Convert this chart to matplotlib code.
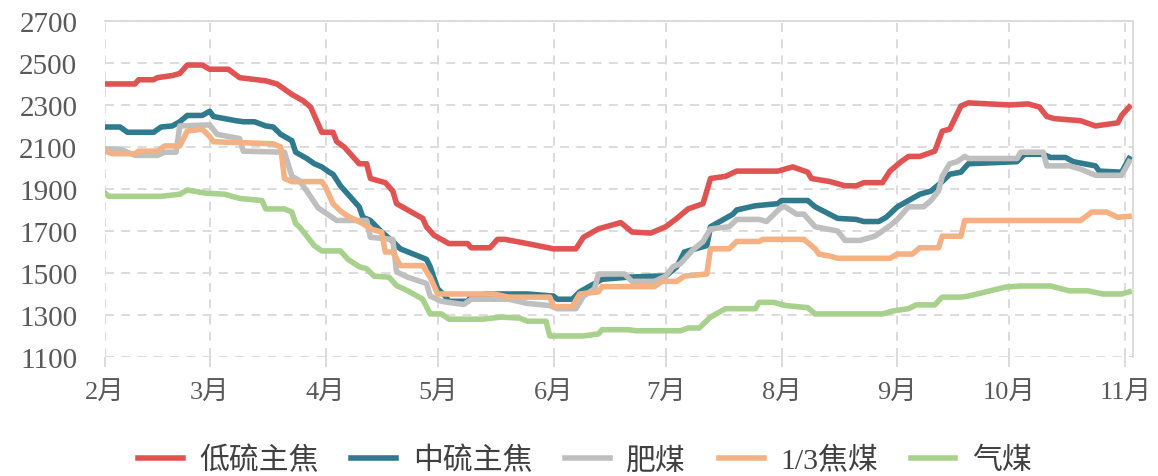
import numpy as np
import pandas as pd
import matplotlib
matplotlib.use('Agg')
import matplotlib.pyplot as plt
import matplotlib.dates as mdates

plt.rcParams['font.family'] = ['Liberation Serif', 'Noto Sans CJK SC']

# %%
# Price series, dates as month-day of one year
red_dates = ['02-01', '02-09', '02-10', '02-14', '02-15', '02-19', '02-21', '02-23', '02-27', '03-01',
             '03-06', '03-09', '03-16', '03-19', '03-23', '03-26', '03-28', '03-31', '04-03', '04-04',
             '04-06', '04-10', '04-12', '04-13', '04-17', '04-19', '04-20', '04-23', '04-27', '04-28',
             '04-30', '05-02', '05-03', '05-04', '05-09', '05-10', '05-15', '05-17', '05-19', '05-22',
             '05-25', '06-01', '06-07', '06-09', '06-13', '06-19', '06-22', '06-27', '07-01', '07-04',
             '07-07', '07-11', '07-13', '07-17', '07-20', '07-31', '08-04', '08-08', '08-09', '08-14',
             '08-18', '08-21', '08-23', '08-28', '08-30', '09-02', '09-04', '09-07', '09-11', '09-13',
             '09-15', '09-18', '09-20', '10-01', '10-06', '10-09', '10-11', '10-13', '10-20', '10-24',
             '10-30', '10-31', '11-02']
red_vals = [2400, 2400, 2420, 2420, 2430, 2440, 2450, 2490, 2490, 2470,
            2470, 2430, 2415, 2400, 2350, 2320, 2290, 2170, 2170, 2125,
            2100, 2020, 2020, 1950, 1930, 1890, 1830, 1800, 1760, 1720,
            1680, 1660, 1650, 1640, 1640, 1620, 1620, 1660, 1660, 1650,
            1640, 1615, 1615, 1670, 1710, 1740, 1695, 1690, 1720, 1760,
            1805, 1830, 1950, 1960, 1985, 1985, 2005, 1980, 1950, 1935,
            1915, 1915, 1930, 1930, 1985, 2030, 2055, 2055, 2080, 2175,
            2185, 2295, 2310, 2300, 2305, 2290, 2245, 2235, 2225, 2200,
            2215, 2250, 2290]

teal_dates = ['02-01', '02-05', '02-07', '02-14', '02-16', '02-19', '02-21', '02-23', '02-27', '03-01',
              '03-02', '03-08', '03-10', '03-13', '03-16', '03-18', '03-20', '03-23', '03-24', '03-27',
              '03-29', '03-31', '04-02', '04-03', '04-05', '04-07', '04-10', '04-11', '04-13', '04-16',
              '04-19', '04-21', '04-28', '04-29', '05-01', '05-03', '05-04', '05-09', '05-10', '05-14',
              '05-25', '06-01', '06-02', '06-06', '06-08', '06-14', '06-21', '06-28', '07-01', '07-04',
              '07-06', '07-09', '07-12', '07-13', '07-19', '07-20', '07-25', '07-31', '08-01', '08-08',
              '08-10', '08-16', '08-21', '08-23', '08-27', '08-29', '09-01', '09-04', '09-07', '09-10',
              '09-13', '09-15', '09-18', '09-20', '10-03', '10-05', '10-10', '10-12', '10-16', '10-18',
              '10-24', '10-25', '10-31', '11-02']
teal_vals = [2195, 2195, 2170, 2170, 2195, 2200, 2220, 2250, 2250, 2270,
             2245, 2225, 2220, 2220, 2200, 2195, 2160, 2130, 2075, 2045,
             2020, 2005, 1980, 1970, 1915, 1875, 1815, 1765, 1750, 1695,
             1650, 1615, 1565, 1530, 1425, 1390, 1365, 1365, 1390, 1400,
             1400, 1390, 1375, 1375, 1410, 1470, 1480, 1485, 1485, 1530,
             1600, 1615, 1630, 1720, 1780, 1800, 1820, 1830, 1845, 1845,
             1815, 1760, 1755, 1745, 1745, 1765, 1815, 1845, 1875, 1890,
             1935, 1970, 1980, 2020, 2030, 2065, 2065, 2050, 2050, 2030,
             2010, 1985, 1980, 2045]

gray_dates = ['02-01', '02-05', '02-09', '02-15', '02-17', '02-20', '02-21', '03-01', '03-03', '03-06',
              '03-09', '03-10', '03-21', '03-23', '03-25', '03-27', '03-30', '04-04', '04-12', '04-13',
              '04-19', '04-20', '04-23', '04-28', '04-29', '05-02', '05-08', '05-10', '05-20', '05-25',
              '05-31', '06-02', '06-07', '06-09', '06-12', '06-13', '06-20', '06-22', '06-28', '07-01',
              '07-03', '07-05', '07-08', '07-11', '07-13', '07-18', '07-20', '07-26', '07-28', '08-01',
              '08-02', '08-05', '08-07', '08-10', '08-16', '08-18', '08-22', '08-26', '08-30', '09-01',
              '09-04', '09-08', '09-10', '09-12', '09-13', '09-15', '09-17', '09-19', '09-20', '10-03',
              '10-04', '10-10', '10-11', '10-17', '10-20', '10-24', '10-31', '11-02']
gray_vals = [2090, 2090, 2060, 2060, 2075, 2075, 2200, 2205, 2160, 2150,
             2140, 2080, 2075, 1960, 1940, 1890, 1810, 1750, 1750, 1670,
             1660, 1505, 1480, 1450, 1390, 1365, 1350, 1375, 1375, 1355,
             1345, 1330, 1330, 1390, 1425, 1495, 1495, 1460, 1460, 1485,
             1530, 1545, 1605, 1650, 1710, 1720, 1755, 1755, 1745, 1815,
             1815, 1780, 1780, 1720, 1700, 1655, 1655, 1675, 1725, 1755,
             1815, 1815, 1845, 1890, 1960, 2020, 2030, 2055, 2045, 2045,
             2075, 2075, 2010, 2010, 1995, 1965, 1965, 2030]

orange_dates = ['02-01', '02-03', '02-09', '02-10', '02-15', '02-17', '02-21', '02-23', '02-27', '03-01',
                '03-02', '03-18', '03-20', '03-21', '03-23', '03-31', '04-01', '04-03', '04-05', '04-07',
                '04-11', '04-13', '04-16', '04-17', '04-19', '04-21', '04-27', '04-29', '05-01', '05-16',
                '05-20', '05-31', '06-01', '06-06', '06-08', '06-13', '06-14', '06-28', '06-30', '07-04',
                '07-06', '07-12', '07-13', '07-18', '07-20', '07-26', '07-27', '08-07', '08-10', '08-11',
                '08-14', '08-16', '08-30', '09-01', '09-05', '09-07', '09-12', '09-13', '09-18', '09-19',
                '10-20', '10-23', '10-27', '10-30', '11-02']
orange_vals = [2080, 2068, 2068, 2080, 2080, 2105, 2105, 2175, 2185, 2150,
               2125, 2115, 2100, 1950, 1935, 1935, 1910, 1830, 1795, 1770,
               1735, 1710, 1695, 1600, 1600, 1535, 1535, 1480, 1400, 1400,
               1385, 1385, 1340, 1340, 1400, 1410, 1435, 1435, 1460, 1460,
               1485, 1495, 1615, 1615, 1650, 1650, 1660, 1660, 1615, 1590,
               1580, 1570, 1570, 1590, 1590, 1620, 1620, 1675, 1675, 1750,
               1750, 1790, 1790, 1765, 1770]

green_dates = ['02-01', '02-02', '02-16', '02-21', '02-23', '02-28', '03-05', '03-09', '03-15', '03-16',
               '03-21', '03-23', '03-24', '03-25', '03-29', '03-31', '04-05', '04-07', '04-10', '04-12',
               '04-14', '04-18', '04-20', '04-23', '04-27', '04-29', '05-02', '05-04', '05-13', '05-18',
               '05-23', '05-25', '05-30', '05-31', '06-09', '06-13', '06-14', '06-21', '06-23', '07-05',
               '07-07', '07-10', '07-13', '07-17', '07-25', '07-26', '07-30', '08-02', '08-08', '08-10',
               '08-28', '08-31', '09-04', '09-06', '09-11', '09-13', '09-18', '09-20', '09-30', '10-04',
               '10-12', '10-17', '10-22', '10-26', '10-31', '11-02']
green_vals = [1880, 1865, 1865, 1875, 1895, 1880, 1875, 1855, 1845, 1805,
              1805, 1790, 1735, 1720, 1630, 1605, 1605, 1565, 1530, 1520,
              1485, 1480, 1440, 1415, 1375, 1305, 1305, 1280, 1280, 1290,
              1285, 1270, 1270, 1200, 1200, 1210, 1230, 1230, 1225, 1225,
              1238, 1238, 1290, 1330, 1330, 1360, 1360, 1345, 1335, 1305,
              1305, 1320, 1330, 1348, 1348, 1385, 1385, 1390, 1433, 1438,
              1438, 1415, 1415, 1400, 1400, 1410]

names = ['低硫主焦', '中硫主焦', '肥煤', '1/3焦煤', '气煤']
colors = ['#E05353', '#2F7A8C', '#BFBFBF', '#F4B183', '#A9D18E']
series = [(red_dates, red_vals), (teal_dates, teal_vals), (gray_dates, gray_vals),
          (orange_dates, orange_vals), (green_dates, green_vals)]

month_ticks = ['02-01', '03-01', '04-01', '05-01', '06-01', '07-01', '08-01', '09-01', '10-01', '11-01']
month_labels = ['2月', '3月', '4月', '5月', '6月', '7月', '8月', '9月', '10月', '11月']

def to_dt(lst):
    return pd.to_datetime(['2023-' + d for d in lst])

# %%
fig = plt.figure(figsize=(11.58, 4.77), dpi=100)
ax = fig.add_axes([0.0907, 0.2495, 0.978 - 0.0907, 0.954 - 0.2495])

for (d, v), name, c in zip(series, names, colors):
    ax.plot(to_dt(d), v, color=c, linewidth=4, label=name, solid_joinstyle='round')

ax.set_ylim(1100, 2700)
ax.set_yticks(np.arange(1100, 2701, 200))
ax.set_xlim(pd.Timestamp('2023-02-01'), pd.Timestamp('2023-11-02 22:00'))
ax.set_xticks(to_dt(month_ticks))
ax.set_xticklabels(month_labels)

ax.grid(True, color='#D9D9D9', linestyle=(0, (5, 4)), linewidth=1.3)
ax.set_axisbelow(True)
for s in ['left', 'bottom']:
    ax.spines[s].set_visible(False)
for s in ['top', 'right']:
    ax.spines[s].set_color('#D9D9D9')
    ax.spines[s].set_linewidth(1.3)

ax.tick_params(axis='y', length=0, pad=20, labelsize=21, labelcolor='#595959')
ax.tick_params(axis='x', length=7, width=1.3, color='#D9D9D9', pad=10, labelsize=19, labelcolor='#595959')

fig.legend(loc='center', bbox_to_anchor=(0.505, 0.033), ncol=5, frameon=False,
           fontsize=21.5, handlelength=1.5, handletextpad=0.55, columnspacing=1.1,
           labelcolor='#404040')

fig.savefig('out.png', dpi=100)
